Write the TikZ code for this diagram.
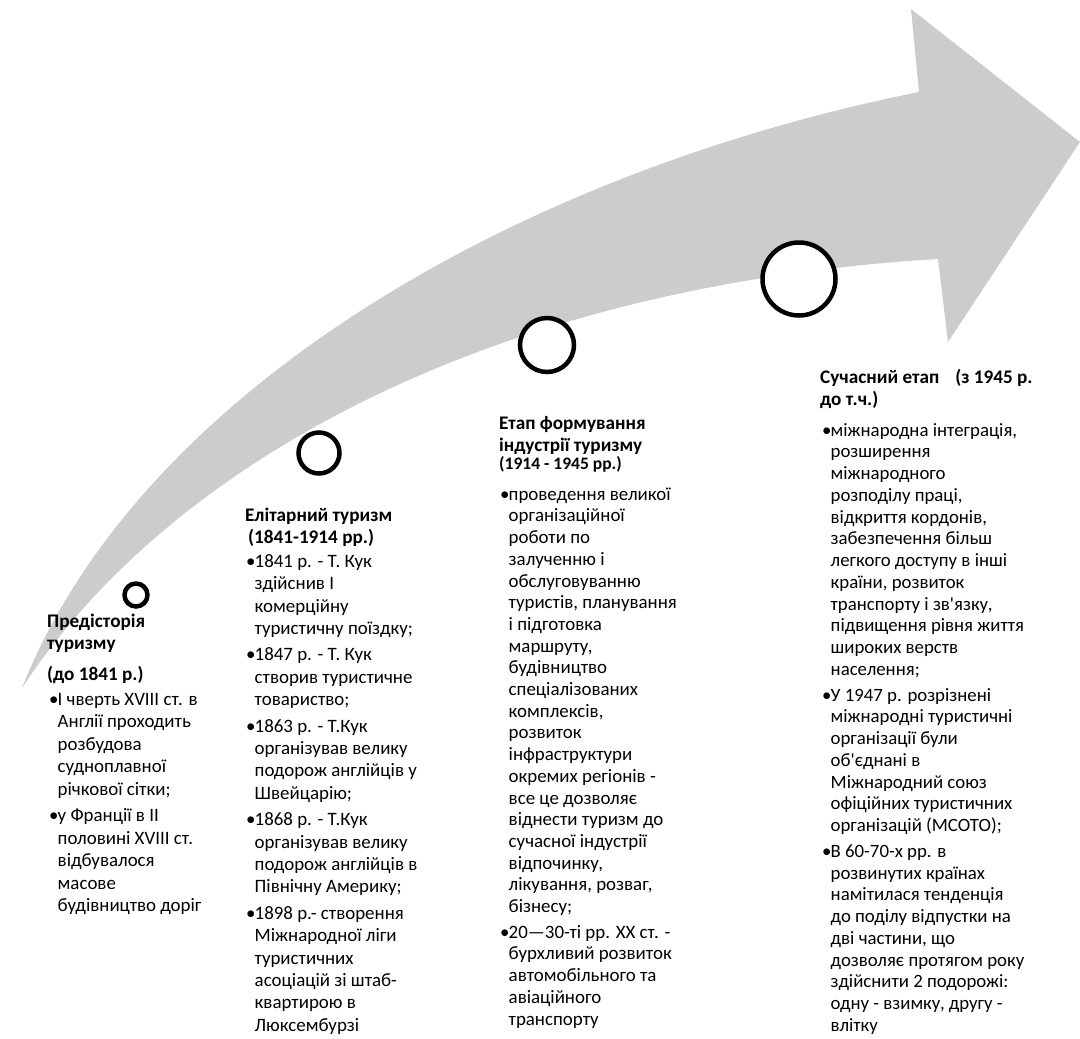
\documentclass[tikz,border=0pt]{standalone}
\usepackage{fontspec}
\setmainfont{Carlito}
\definecolor{arrowgray}{RGB}{204,204,204}
\newcommand\bl{\makebox[8.5pt][l]{•}}
\newcommand\ind{\hspace*{8.5pt}}
\newcommand\tstrut{\rule{0pt}{16pt}}
\begin{document}
\begin{tikzpicture}[x=1pt,y=-1pt,
  txt/.style={anchor=north west, inner sep=0pt, align=left},
  body/.style={txt, font=\fontsize{18.9}{22.5}\selectfont},
  bodyb/.style={txt, font=\fontsize{18.9}{22.4}\selectfont},
  bodyc/.style={txt, font=\fontsize{18.9}{21.7}\selectfont},
  bodyd/.style={txt, font=\fontsize{18.8}{21.75}\selectfont},
  ttl/.style={txt, font=\bfseries\fontsize{19.2}{22.5}\selectfont},
  ttls/.style={txt, font=\bfseries\fontsize{17.5}{20}\selectfont},
  ring/.style={circle, draw=black, fill=white, line width=4.5pt, inner sep=0pt}]
\useasboundingbox (0,0) rectangle (1080,1039);
% arrow
\fill[arrowgray] (22,688) .. controls (140,390) and (519,172) .. (919,92) -- (911,9) -- (1080,142)
  -- (948,342) -- (938,259) .. controls (488,286) and (168,465) .. (22,688) -- cycle;
% circles
\node[ring, minimum size=23pt] (c1) at (136,595) {};
\node[ring, minimum size=41pt] (c2) at (319,453) {};
\node[ring, minimum size=54pt] (c3) at (547,345) {};
\node[ring, minimum size=73pt] (c4) at (799,279) {};
% block 1
\node[ttl] (t1) at (47,611) {\tstrut Предісторія\\туризму};
\node[ttl] (d1) at (47,664) {\tstrut (до 1841 р.)};
\node[body] (b1) at (49,689) {\tstrut\bl І чверть XVIII ст. в\\
\ind Англії проходить\\
\ind розбудова\\
\ind судноплавної\\
\ind річкової сітки;\\[4pt]
\bl у Франції в ІІ\\
\ind половині XVIII ст.\\
\ind відбувалося\\
\ind масове\\
\ind будівництво доріг};
% block 2
\node[ttl] (t2) at (245,505) {\tstrut Елітарний туризм\\\hspace*{3pt}(1841-1914 рр.)};
\node[bodyb] (b2) at (246,551) {\tstrut\bl 1841 р. - Т. Кук\\
\ind здійснив І\\
\ind комерційну\\
\ind туристичну поїздку;\\[4pt]
\bl 1847 р. - Т. Кук\\
\ind створив туристичне\\
\ind товариство;\\[4pt]
\bl 1863 р. - Т.Кук\\
\ind організував велику\\
\ind подорож англійців у\\
\ind Швейцарію;\\[4pt]
\bl 1868 р. - Т.Кук\\
\ind організував велику\\
\ind подорож англійців в\\
\ind Північну Америку;\\[4pt]
\bl 1898 р.- створення\\
\ind Міжнародної ліги\\
\ind туристичних\\
\ind асоціацій зі штаб-\\
\ind квартирою в\\
\ind Люксембурзі};
% block 3
\node[ttl] (t3) at (499,413) {\tstrut Етап формування\\індустрії туризму};
\node[ttls] (d3) at (499,455) {\rule{0pt}{14.5pt}(1914 - 1945 рр.)};
\node[bodyc] (b3) at (500,484) {\tstrut\bl проведення великої\\
\ind організаційної\\
\ind роботи по\\
\ind залученню і\\
\ind обслуговуванню\\
\ind туристів, планування\\
\ind і підготовка\\
\ind маршруту,\\
\ind будівництво\\
\ind спеціалізованих\\
\ind комплексів,\\
\ind розвиток\\
\ind інфраструктури\\
\ind окремих регіонів -\\
\ind все це дозволяє\\
\ind віднести туризм до\\
\ind сучасної індустрії\\
\ind відпочинку,\\
\ind лікування, розваг,\\
\ind бізнесу;\\[4pt]
\bl 20—30-ті рр. XX ст. -\\
\ind бурхливий розвиток\\
\ind автомобільного та\\
\ind авіаційного\\
\ind транспорту};
% block 4
\node[ttl] (t4) at (820,367) {\tstrut Сучасний етап\hspace{16pt}(з 1945 р.\\до т.ч.)};
\node[bodyd] (b4) at (822,420) {\tstrut\bl міжнародна інтеграція,\\
\ind розширення\\
\ind міжнародного\\
\ind розподілу праці,\\
\ind відкриття кордонів,\\
\ind забезпечення більш\\
\ind легкого доступу в інші\\
\ind країни, розвиток\\
\ind транспорту і зв\textquotesingle язку,\\
\ind підвищення рівня життя\\
\ind широких верств\\
\ind населення;\\[4pt]
\bl У 1947 р. розрізнені\\
\ind міжнародні туристичні\\
\ind організації були\\
\ind об\textquotesingle єднані в\\
\ind Міжнародний союз\\
\ind офіційних туристичних\\
\ind організацій (МСОТО);\\[4pt]
\bl В 60-70-х рр. в\\
\ind розвинутих країнах\\
\ind намітилася тенденція\\
\ind до поділу відпустки на\\
\ind дві частини, що\\
\ind дозволяє протягом року\\
\ind здійснити 2 подорожі:\\
\ind одну - взимку, другу -\\
\ind влітку};
\end{tikzpicture}
\end{document}
